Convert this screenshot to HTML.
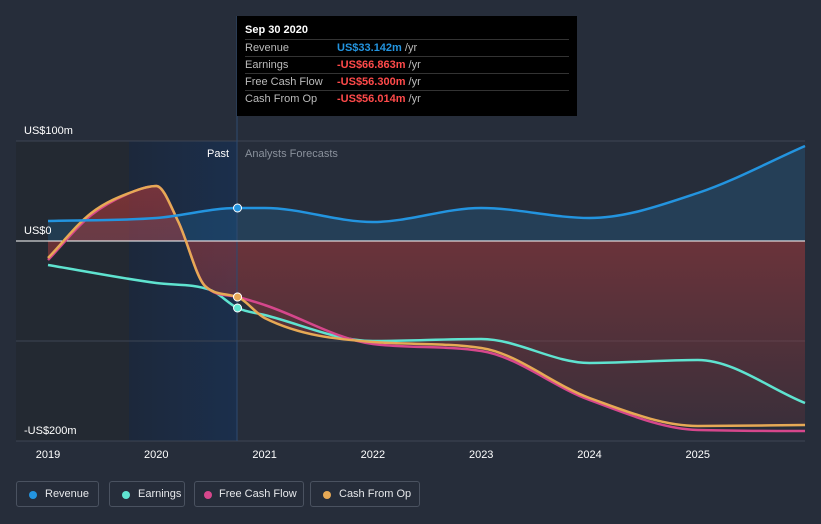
<!DOCTYPE html>
<html><head><meta charset="utf-8">
<style>
html,body{margin:0;padding:0;background:#262d3a;width:821px;height:524px;overflow:hidden;font-family:"Liberation Sans",sans-serif;}
svg{position:absolute;left:0;top:0}
.legend{position:absolute;top:481px;height:26px;border:1px solid #4a5260;border-radius:3px;color:#e6e8eb;font-size:11px;line-height:25px;box-sizing:border-box;padding-left:24px;white-space:nowrap;overflow:hidden}
.legend i{position:absolute;left:9px;top:9px;width:8px;height:8px;border-radius:50%}
.tip{position:absolute;left:237px;top:16px;width:340px;height:100px;background:#000;color:#fff;font-size:11px}
.row{position:absolute;left:8px;width:324px;height:17px;border-top:1px solid #333;line-height:17px;color:#bbb}
.row span{position:absolute;left:92px;font-weight:bold}
</style></head><body>
<svg id="c" width="821" height="524"></svg>
<div class="tip">
<div style="position:absolute;left:8px;top:8px;font-weight:bold;font-size:11px">Sep 30 2020</div>
<div class="row" style="top:23px">Revenue<span style="color:#2394df">US$33.142m <b style="color:#bbb;font-weight:normal">/yr</b></span></div>
<div class="row" style="top:40px">Earnings<span style="color:#ff4a4a">-US$66.863m <b style="color:#bbb;font-weight:normal">/yr</b></span></div>
<div class="row" style="top:57px">Free Cash Flow<span style="color:#ff4a4a">-US$56.300m <b style="color:#bbb;font-weight:normal">/yr</b></span></div>
<div class="row" style="top:74px">Cash From Op<span style="color:#ff4a4a">-US$56.014m <b style="color:#bbb;font-weight:normal">/yr</b></span></div>
</div>
<div class="legend" style="left:16px;width:83px;padding-left:28px"><i style="background:#2394df;left:12px"></i>Revenue</div>
<div class="legend" style="left:109px;width:76px;padding-left:28px"><i style="background:#5fe3d0;left:12px"></i>Earnings</div>
<div class="legend" style="left:194px;width:110px"><i style="background:#d6478c"></i>Free Cash Flow</div>
<div class="legend" style="left:310px;width:110px;padding-left:28px"><i style="background:#e6a955;left:12px"></i>Cash From Op</div>
<script>
const years=[2019,2020,2021,2022,2023,2024,2025];
const yTicks=[100,0,-200];
const yTickLabels=["US$100m","US$0","-US$200m"];
const revX=[2019,2020,2020.75,2021,2022,2023,2024,2025,2025.99];
const revenue=[20,23,33,33,19,33,23,48,95];
const earnX=[2019,2020,2020.5,2020.75,2021,2022,2023,2024,2025,2025.99];
const earnings=[-24,-42,-49,-67,-74,-100,-98,-122,-119,-162];
const cfX=[2019,2019.4,2019.8,2020,2020.2,2020.45,2020.75,2021,2022,2023,2024,2025,2025.99];
const cashOp=[-17,28,50,55,20,-45,-56,-77,-101,-107,-157,-185,-184];
const fcf=[-19,26,50,55,20,-45,-56,-64,-103,-110,-159,-189,-190];
const X=v=>48+(v-2019)*108.3, Y=v=>241-v;
const s=document.getElementById('c'),NS='http://www.w3.org/2000/svg';
function el(t,a,p){const e=document.createElementNS(NS,t);for(const k in a)e.setAttribute(k,a[k]);(p||s).appendChild(e);return e;}
function path(xs,vs){const p=xs.map((x,i)=>[X(x),Y(vs[i])]);const n=p.length;const d=[],m=[];
for(let i=0;i<n-1;i++)d.push((p[i+1][1]-p[i][1])/(p[i+1][0]-p[i][0]));
m[0]=d[0];m[n-1]=d[n-2];for(let i=1;i<n-1;i++)m[i]=(d[i-1]*d[i]<=0)?0:(d[i-1]+d[i])/2;
for(let i=0;i<n-1;i++){if(d[i]===0){m[i]=m[i+1]=0;continue;}const a=m[i]/d[i],b=m[i+1]/d[i],h=a*a+b*b;if(h>9){const t=3/Math.sqrt(h);m[i]=t*a*d[i];m[i+1]=t*b*d[i];}}
let s='M'+p[0];for(let i=0;i<n-1;i++){const h=(p[i+1][0]-p[i][0])/3;s+=' C'+(p[i][0]+h)+','+(p[i][1]+m[i]*h)+' '+(p[i+1][0]-h)+','+(p[i+1][1]-m[i+1]*h)+' '+p[i+1][0]+','+p[i+1][1];}return s;}
const defs=el('defs',{});
defs.innerHTML='<linearGradient id="pg" x1="0" x2="1"><stop offset="0" stop-color="#1c283b"/><stop offset="1" stop-color="#1b2f4c"/></linearGradient><linearGradient id="rg" x1="0" y1="0" x2="0" y2="1"><stop offset="0" stop-color="#b03a3a" stop-opacity="0.6"/><stop offset="1" stop-color="#b03a3a" stop-opacity="0.15"/></linearGradient>';
let r=el('rect',{x:16,y:141,width:113,height:300,fill:'#232932'});
r=el('rect',{x:129,y:141,width:108,height:300,fill:'url(#pg)'});
[100,-100,-200].forEach(v=>{el('line',{x1:16,x2:805,y1:Y(v),y2:Y(v),stroke:'#3d4554'});});
let f=el('path',{d:path(revX,revenue)+` L${X(2025.99)},${Y(0)} L${X(2019)},${Y(0)} Z`,fill:'#2394df',opacity:0.18});
f=el('path',{d:path(cfX,cashOp)+` L${X(2025.99)},${Y(0)} L${X(2019)},${Y(0)} Z`,fill:'url(#rg)'});
el('line',{x1:237,x2:237,y1:16,y2:441,stroke:'#2d4a70'});
el('line',{x1:16,x2:805,y1:Y(0),y2:Y(0),stroke:'#fff','stroke-width':1});
[[earnX,earnings,'#5fe3d0','earnings-line'],[cfX,fcf,'#d6478c','fcf-line'],[cfX,cashOp,'#e6a955','cash-from-op-line'],[revX,revenue,'#2394df','revenue-line']].forEach(q=>{const p=el('path',{d:path(q[0],q[1]),fill:'none',stroke:q[2],'stroke-width':2.5});});
[[33,'#2394df'],[-67,'#5fe3d0'],[-56,'#d6478c'],[-56,'#e6a955']].forEach(q=>{const c=el('circle',{cx:X(2020.75),cy:Y(q[0]),r:4,fill:q[1],stroke:'#fff','stroke-width':1});});
yTicks.forEach((v,i)=>{const t=el('text',{x:24,y:Y(v)-7,fill:'#fff','font-size':11});t.textContent=yTickLabels[i];});
years.forEach(y=>{const t=el('text',{x:X(y),y:458,fill:'#fff','font-size':11,'text-anchor':'middle'});t.textContent=y;});
let t=el('text',{x:229,y:157,fill:'#fff','font-size':11,'text-anchor':'end'});t.textContent='Past';
t=el('text',{x:245,y:157,fill:'#8a919c','font-size':11});t.textContent='Analysts Forecasts';
</script>
</body></html>
